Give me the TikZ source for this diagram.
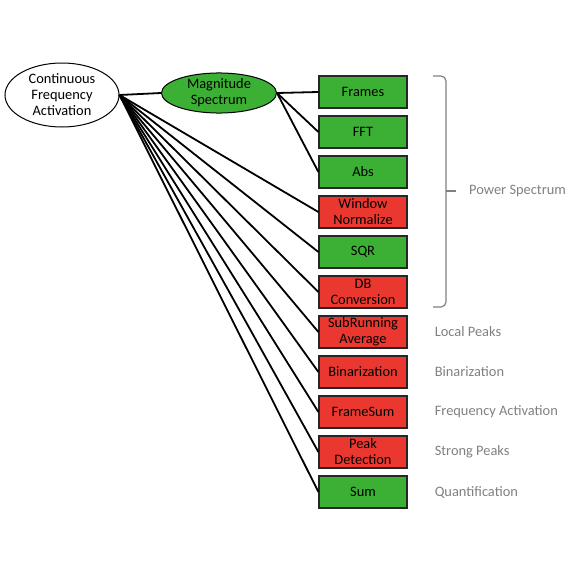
\documentclass[tikz,border=0pt]{standalone}
\usepackage{fontspec}
\setmainfont{Carlito}
\usepackage{xcolor}
\usepackage{tikz}
\usetikzlibrary{shapes.geometric, positioning}

\definecolor{stepgreen}{RGB}{60,176,52}
\definecolor{stepred}{RGB}{234,56,48}
\definecolor{notegray}{RGB}{128,128,128}

\begin{document}
\begin{tikzpicture}[
    x=1pt,
    y=-1pt,
    node distance=40pt,
    font=\fontsize{14.4}{16}\selectfont,
    oval/.style={
        ellipse,
        draw,
        line width=1pt,
        inner sep=0pt,
        align=center
    },
    stepbox/.style={
        rectangle,
        draw=black!85,
        line width=1.2pt,
        minimum width=88pt,
        minimum height=32pt,
        inner sep=0pt,
        align=center
    },
    good/.style={stepbox, fill=stepgreen},
    bad/.style={stepbox, fill=stepred},
    note/.style={text=notegray, inner sep=0pt},
    link/.style={line width=1.8pt}
]
\useasboundingbox (0,0) rectangle (570,570);

\node[oval, minimum width=114pt, minimum height=64pt] (cfa) at (62,95) {Continuous\\Frequency\\Activation};

\node[oval, fill=stepgreen, minimum width=115pt, minimum height=40pt] (mag) at (219,93) {Magnitude\\Spectrum};

\node[good] (frames) at (363,92) {Frames};
\node[good, below of=frames] (fft) {FFT};
\node[good, below of=fft] (abs) {Abs};
\node[bad, below of=abs] (win) {Window\\Normalize};
\node[good, below of=win] (sqr) {SQR};
\node[bad, below of=sqr] (db) {DB\\Conversion};
\node[bad, below of=db] (subrun) {SubRunning\\Average};
\node[bad, below of=subrun] (binar) {Binarization};
\node[bad, below of=binar] (fsum) {FrameSum};
\node[bad, below of=fsum] (peak) {Peak\\Detection};
\node[good, below of=peak] (sum) {Sum};

\draw[link] (cfa.east) -- (mag.west);
\foreach \n in {frames, fft, abs}
    \draw[link] (mag.east) -- (\n.west);
\foreach \n in {win, sqr, db, subrun, binar, fsum, peak, sum}
    \draw[link] (cfa.east) -- (\n.west);

% bracket round the power spectrum steps
\draw[notegray, line width=1.2pt, rounded corners=5pt] (433,76) -| (446,191) |- (433,307);
\draw[notegray, line width=1.2pt] (446,191) -- (456,191);

\node[note, anchor=west] (power) at (469,191) {Power Spectrum};
\node[note, right=27pt of subrun] (local) {Local Peaks};
\node[note, right=27pt of binar] (binlbl) {Binarization};
\node[note, right=27pt of fsum] (freq) {Frequency Activation};
\node[note, right=27pt of peak] (strong) {Strong Peaks};
\node[note, right=27pt of sum] (quant) {Quantification};

\end{tikzpicture}
\end{document}
